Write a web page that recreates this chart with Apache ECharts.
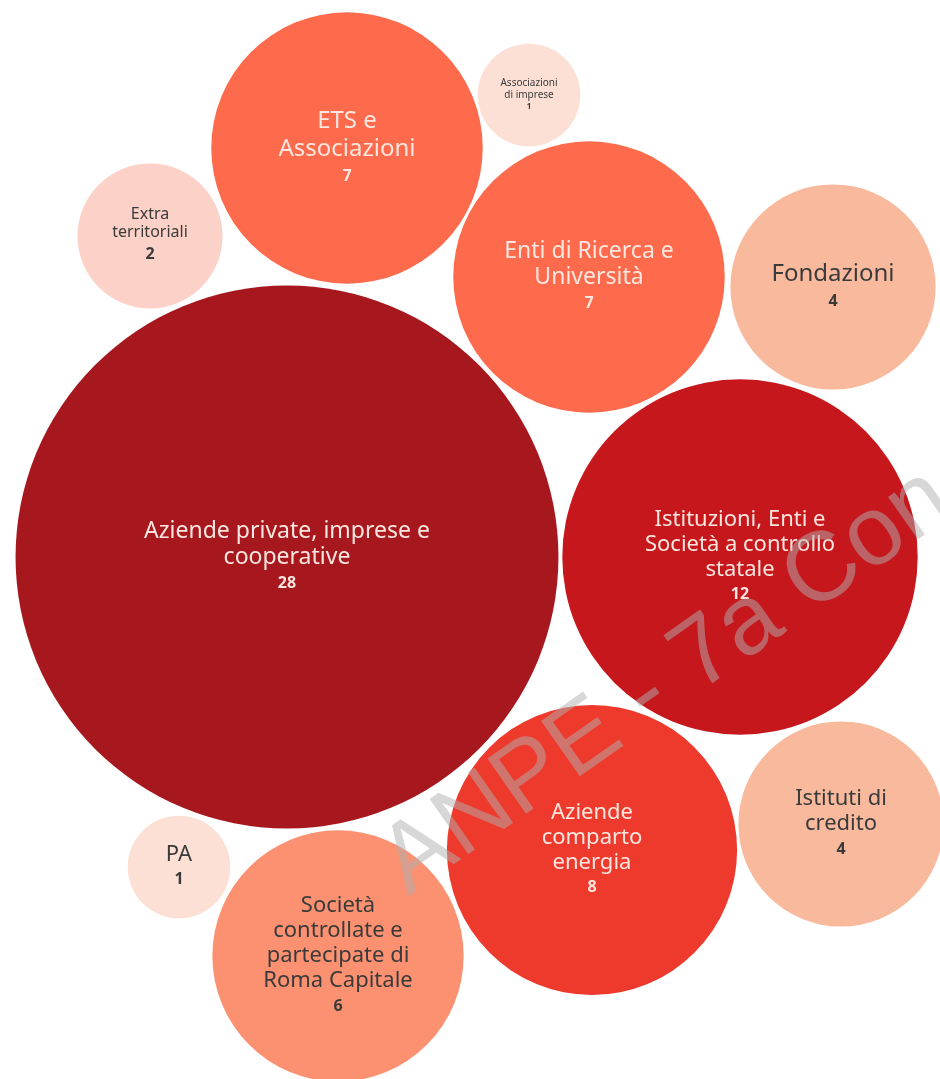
<!DOCTYPE html>
<html>
<head>
<meta charset="utf-8">
<script src="https://cdn.jsdelivr.net/npm/echarts@6/dist/echarts.min.js"></script>
<style>
  html, body { margin: 0; padding: 0; background: #fff; }
  #chart { width: 940px; height: 1079px; }
</style>
</head>
<body>
<div id="chart"></div>
<script>
// categories and counts
const categories = [
  'Aziende private, imprese e\ncooperative',
  'Istituzioni, Enti e\nSocietà a controllo\nstatale',
  'Aziende\ncomparto\nenergia',
  'ETS e\nAssociazioni',
  'Enti di Ricerca e\nUniversità',
  'Società\ncontrollate e\npartecipate di\nRoma Capitale',
  'Fondazioni',
  'Istituti di\ncredito',
  'Extra\nterritoriali',
  'Associazioni\ndi imprese',
  'PA'
]
const counts = [28, 12, 8, 7, 7, 6, 4, 4, 2, 1, 1]

// bubble layout (centres in axis units, same order as categories)
const centreX = [287, 740, 592, 347, 589, 338, 833, 841, 150, 529, 179]
const centreY = [557, 557, 850, 148, 277, 956, 287, 824, 236, 95, 867]

const fills = ['#a6171e', '#c6171c', '#ee3a2d', '#fd6a4c', '#fd6a4c', '#fb9171',
  '#f9b99d', '#f9b99d', '#fcd2c8', '#fce0d5', '#fce0d5']
const fontSizes = [23, 22, 22, 24, 23, 22, 24, 22, 16, 10, 22]
const darkText = [false, false, false, false, false, true, true, true, true, true, true]

const chart = echarts.init(document.getElementById('chart'))

const data = categories.map((name, i) => ({
  name: name,
  value: [centreX[i], centreY[i], counts[i]],
  itemStyle: { color: fills[i], opacity: 1 },
  label: {
    fontSize: fontSizes[i],
    lineHeight: Math.round(fontSizes[i] * 1.15),
    color: darkText[i] ? '#3a3a3a' : '#fde6df',
    rich: {
      v: {
        fontSize: fontSizes[i] < 14 ? 8 : 16,
        fontWeight: 'bold',
        lineHeight: fontSizes[i] < 14 ? 11 : 25,
        color: darkText[i] ? '#3a3a3a' : '#fde6df',
        fontFamily: 'Noto Sans'
      }
    }
  }
}))

chart.setOption({
  animation: false,
  backgroundColor: '#ffffff',
  grid: { left: 0, right: 0, top: 0, bottom: 0 },
  xAxis: { type: 'value', min: 0, max: 940, show: false },
  yAxis: { type: 'value', min: 0, max: 1079, inverse: true, show: false },
  series: [{
    type: 'scatter',
    symbol: 'circle',
    symbolSize: val => Math.sqrt(val[2]) * 102.6,
    data: data,
    label: {
      show: true,
      position: 'inside',
      align: 'center',
      fontFamily: 'Noto Sans',
      formatter: p => p.name + '\n{v|' + p.value[2] + '}'
    },
    emphasis: { disabled: true }
  }],
  graphic: [{
    type: 'text',
    x: 667,
    y: 682,
    rotation: 35 * Math.PI / 180,
    silent: true,
    z: 100,
    style: {
      text: 'ANPE - 7a Con',
      font: '98px "Liberation Sans", Arial, sans-serif',
      fill: 'rgba(175,175,175,0.5)',
      align: 'center',
      verticalAlign: 'middle'
    }
  }]
})
</script>
</body>
</html>
